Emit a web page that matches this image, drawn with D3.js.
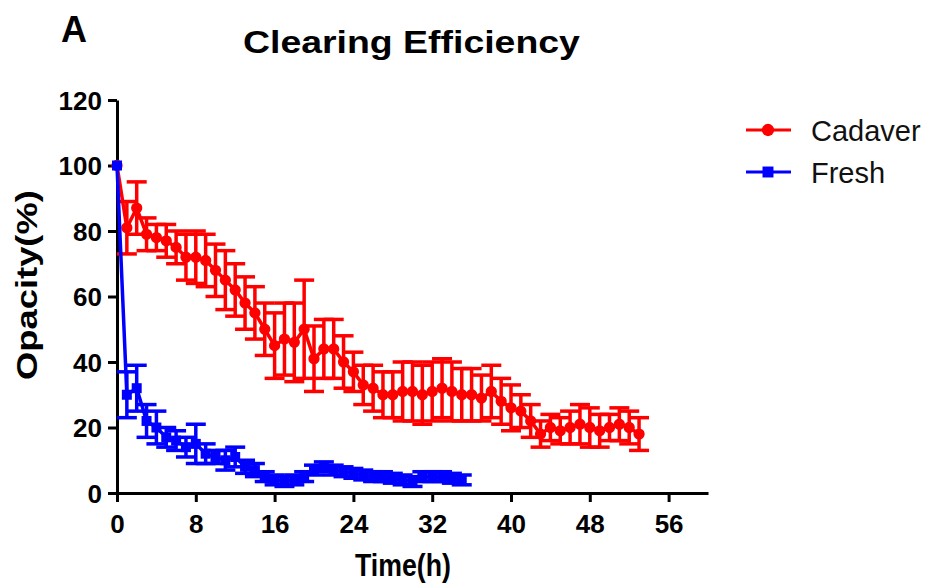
<!DOCTYPE html>
<html><head><meta charset="utf-8">
<script src="https://cdn.jsdelivr.net/npm/d3@7"></script>
<style>body{margin:0;background:#fff}svg{display:block}text{font-family:"Liberation Sans",Arial,sans-serif}</style>
</head><body><svg id="c" width="937" height="588"></svg>
<script>
const cadaverTime = [0,1,2,3,4,5,6,7,8,9,10,11,12,13,14,15,16,17,18,19,20,21,22,23,24,25,26,27,28,29,30,31,32,33,34,35,36,37,38,39,40,41,42,43,44,45,46,47,48,49,50,51,52,53];
const cadaverMean = [100,81,87,79,78,77,75,72,72,71,68,65,62,58,55,50,45,47,46,50,41,44,44,40,37,33,32,30,30,31,31,30,31,32,31,30,30,29,31,28,26,25,22,18,20,19,20,21,20,19,20,21,20,18];
const cadaverErr  = [0,8,8,5,4,5,5,7,8,8,8,9,8,8,8,8,10,11,12,15,10,9,9,8,6,6,7,7,7,9,9,9,9,9,9,8,8,7,8,7,7,5,5,4,4,4,5,6,6,5,4,5,5,5];
const freshTime = [0,1,2,3,4,5,6,7,8,9,10,11,12,13,14,15,16,17,18,19,20,21,22,23,24,25,26,27,28,29,30,31,32,33,34,35];
const freshMean = [100,30,32,22,20,17,16,14,15,12,11,10,11,8,7,5,4,3.5,4,5,7,8,7,6.5,6,5.5,5,5,4.5,4,3.5,5,5,5,4.5,4];
const freshErr  = [0,7,7,5,5,3,3,3,6,3,2,3,3,2,2,1.5,1.5,1.5,1.5,1.5,1.5,1.5,1.5,1.5,1.5,1.5,1.5,1.5,1.5,1.5,1.5,1.5,1.5,1.5,1.5,1.5];
const xTicks = [0,8,16,24,32,40,48,56];
const yTicks = [0,20,40,60,80,100,120];
const seriesNames = ["Cadaver","Fresh"];
const seriesColors = ["#ff0000","#0000ff"];

const svg = d3.select("#c");
const x = d3.scaleLinear().domain([0,60]).range([117,708]);
const y = d3.scaleLinear().domain([0,120]).range([493,100]);

// axes
const xa = svg.append("g").attr("transform","translate(0,493)")
  .call(d3.axisBottom(x).tickValues(xTicks).tickSize(9).tickSizeOuter(0).tickPadding(12));
const ya = svg.append("g").attr("transform","translate(117,0)")
  .call(d3.axisLeft(y).tickValues(yTicks).tickSize(9).tickSizeOuter(0).tickPadding(5));
[xa,ya].forEach(a=>{
  a.select(".domain").attr("stroke","#000").attr("stroke-width",3);
  a.selectAll(".tick line").attr("stroke","#000").attr("stroke-width",3);
  a.selectAll(".tick text").attr("fill","#000").attr("font-size",26).attr("font-weight","bold")
   .style("font-family","'Liberation Sans',Arial,sans-serif");
});
xa.selectAll(".tick text").attr("dy","0.72em");
ya.selectAll(".tick text").attr("dx","-1").attr("dy","0.36em");

function drawSeries(times, means, errs, color, shape){
  const data = times.map((t,i)=>({t, m:means[i], e:errs[i]}));
  const g = svg.append("g");
  const line = d3.line().x(d=>x(d.t)).y(d=>y(d.m));
  g.append("path").datum(data).attr("d",line).attr("fill","none").attr("stroke",color).attr("stroke-width",3.5);
  const eb = g.selectAll(".eb").data(data.filter(d=>d.e>0)).join("g");
  eb.append("line").attr("x1",d=>x(d.t)).attr("x2",d=>x(d.t)).attr("y1",d=>y(d.m-d.e)).attr("y2",d=>y(d.m+d.e))
    .attr("stroke",color).attr("stroke-width",3.5);
  [-1,1].forEach(s=>{
    eb.append("line").attr("x1",d=>x(d.t)-10).attr("x2",d=>x(d.t)+10)
      .attr("y1",d=>y(d.m+s*d.e)).attr("y2",d=>y(d.m+s*d.e))
      .attr("stroke",color).attr("stroke-width",3.5);
  });
  const sym = d3.symbol().type(shape).size(100);
  g.selectAll(".pt").data(data).join("path")
    .attr("transform",d=>`translate(${x(d.t)},${y(d.m)})`).attr("d",sym).attr("fill",color);
}
drawSeries(cadaverTime,cadaverMean,cadaverErr,seriesColors[0],d3.symbolCircle);
drawSeries(freshTime,freshMean,freshErr,seriesColors[1],d3.symbolSquare);

// text fitted to a target width by horizontal scaling
function fitText(str, size, tx, ty, width, rot){
  const t = svg.append("text").attr("font-size",size).attr("font-weight","bold").attr("fill","#000").text(str);
  const w = t.node().getComputedTextLength();
  const s = width / w;
  t.attr("transform",`translate(${tx},${ty})${rot?" rotate(-90)":""} scale(${s},1)`);
  return t;
}
svg.append("text").attr("x",61).attr("y",42).attr("font-size",36).attr("font-weight","bold").text("A");
fitText("Clearing Efficiency", 32, 243, 53, 337, false);
fitText("Opacity(%)", 30, 37, 380, 190, true);
fitText("Time(h)", 32, 355, 576, 96, false);

// legend
const lg = svg.append("g");
seriesNames.forEach((n,i)=>{
  const yy = 130 + i*42;
  lg.append("line").attr("x1",746).attr("x2",791).attr("y1",yy).attr("y2",yy).attr("stroke",seriesColors[i]).attr("stroke-width",3);
  lg.append("path").attr("transform",`translate(768,${yy})`).attr("d",d3.symbol().type(i===0?d3.symbolCircle:d3.symbolSquare).size(120)).attr("fill",seriesColors[i]);
  lg.append("text").attr("x",811).attr("y",yy+11).attr("font-size",29).attr("fill","#111").text(n);
});
</script></body></html>
